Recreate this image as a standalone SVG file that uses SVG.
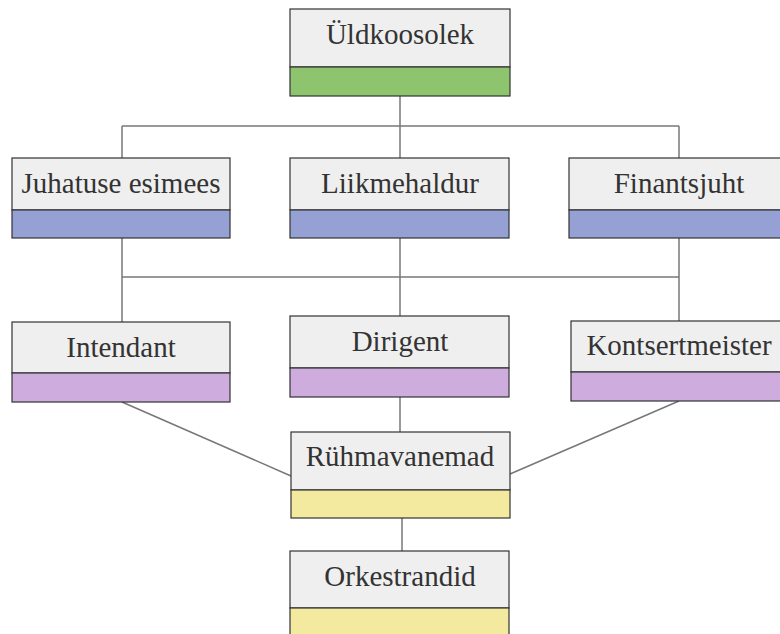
<svg xmlns="http://www.w3.org/2000/svg" width="780" height="634" viewBox="0 0 780 634">
<style>
.top{fill:#efefef;stroke:#333;stroke-width:1.2}
.bar{stroke:#333;stroke-width:1.2}
.g{fill:#8fc46f}.b{fill:#95a0d4}.p{fill:#ceacde}.y{fill:#f3e99f}
.c{stroke:#777;stroke-width:1.5;fill:none}
</style>
<rect width="780" height="634" fill="#ffffff"/>
<g id="connectors">
<line class="c" x1="400" y1="96" x2="400" y2="126"/>
<line class="c" x1="122" y1="126" x2="679" y2="126"/>
<line class="c" x1="122" y1="126" x2="122" y2="158"/>
<line class="c" x1="400" y1="126" x2="400" y2="158"/>
<line class="c" x1="679" y1="126" x2="679" y2="158"/>
<line class="c" x1="122" y1="277" x2="679" y2="277"/>
<line class="c" x1="122" y1="238" x2="122" y2="322"/>
<line class="c" x1="400" y1="238" x2="400" y2="316"/>
<line class="c" x1="679" y1="238" x2="679" y2="321"/>
<line class="c" x1="122" y1="402" x2="291" y2="476"/>
<line class="c" x1="679" y1="401" x2="510" y2="474"/>
<line class="c" x1="400" y1="397" x2="400" y2="432"/>
<line class="c" x1="402" y1="518" x2="402" y2="551"/>
</g>
<g id="uldkoosolek">
<rect class="top" x="290" y="9" width="220" height="58"/>
<rect class="bar g" x="290" y="67" width="220" height="29"/>
<text x="400" y="44" font-size="29" font-family="Liberation Serif" fill="#333" text-anchor="middle">Üldkoosolek</text>
</g>
<g id="juhatuse-esimees">
<rect class="top" x="12" y="158" width="218" height="52"/>
<rect class="bar b" x="12" y="210" width="218" height="28"/>
<text x="121" y="193" font-size="29" font-family="Liberation Serif" fill="#333" text-anchor="middle">Juhatuse esimees</text>
</g>
<g id="liikmehaldur">
<rect class="top" x="290" y="158" width="219" height="52"/>
<rect class="bar b" x="290" y="210" width="219" height="28"/>
<text x="400" y="193" font-size="29" font-family="Liberation Serif" fill="#333" text-anchor="middle">Liikmehaldur</text>
</g>
<g id="finantsjuht">
<rect class="top" x="569" y="158" width="218" height="52"/>
<rect class="bar b" x="569" y="210" width="218" height="28"/>
<text x="679" y="193" font-size="29" font-family="Liberation Serif" fill="#333" text-anchor="middle">Finantsjuht</text>
</g>
<g id="intendant">
<rect class="top" x="12" y="322" width="218" height="51"/>
<rect class="bar p" x="12" y="373" width="218" height="29"/>
<text x="121" y="357" font-size="29" font-family="Liberation Serif" fill="#333" text-anchor="middle">Intendant</text>
</g>
<g id="dirigent">
<rect class="top" x="290" y="316" width="219" height="52"/>
<rect class="bar p" x="290" y="368" width="219" height="29"/>
<text x="400" y="351" font-size="29" font-family="Liberation Serif" fill="#333" text-anchor="middle">Dirigent</text>
</g>
<g id="kontsertmeister">
<rect class="top" x="571" y="321" width="218" height="51"/>
<rect class="bar p" x="571" y="372" width="218" height="29"/>
<text x="679" y="355" font-size="29" font-family="Liberation Serif" fill="#333" text-anchor="middle">Kontsertmeister</text>
</g>
<g id="ruhmavanemad">
<rect class="top" x="291" y="432" width="219" height="58"/>
<rect class="bar y" x="291" y="490" width="219" height="28"/>
<text x="400" y="466" font-size="29" font-family="Liberation Serif" fill="#333" text-anchor="middle">Rühmavanemad</text>
</g>
<g id="orkestrandid">
<rect class="top" x="290" y="551" width="219" height="57"/>
<rect class="bar y" x="290" y="608" width="219" height="40"/>
<text x="400" y="586" font-size="29" font-family="Liberation Serif" fill="#333" text-anchor="middle">Orkestrandid</text>
</g>
</svg>
